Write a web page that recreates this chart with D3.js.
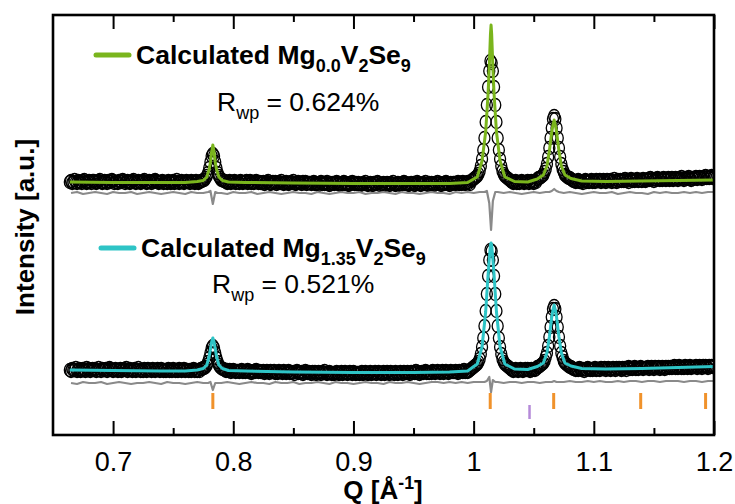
<!DOCTYPE html>
<html>
<head>
<meta charset="utf-8">
<script src="https://cdn.jsdelivr.net/npm/d3@7"></script>
<style>
body{margin:0;background:#fff}
text{font-family:"Liberation Sans",Arial,sans-serif;fill:#000}
</style>
</head>
<body>
<svg id="chart" width="735" height="504"></svg>
<script>
// observed points, equal Q steps
var obsStart = 0.664, obsStep = 0.001;
var obsTop = [
20,21,19,20,22,20,19,21,20,20,19,21,22,20,19,20,21,20,19,21,
21,20,19,20,21,22,20,19,20,21,20,19,21,20,20,22,21,19,20,20,
19,21,20,20,22,21,19,20,21,20,19,20,21,22,20,19,20,21,20,19,
20,21,22,20,19,20,21,20,19,21,20,22,21,20,19,20,20,21,19,20,
20,19,21,20,19,20,21,19,20,22,20,19,20,21,20,19,20,21,20,20,
19,21,20,20,19,21,20,19,20,21,21,22,22,24,26,29,34,40,46,48,
46,40,34,29,26,24,22,22,21,21,20,19,20,21,19,20,20,21,19,20,
20,19,21,20,19,20,20,21,19,20,21,19,20,19,20,21,20,19,20,19,
19,20,18,19,20,21,19,18,19,20,19,20,18,19,20,19,21,19,18,19,
20,19,18,19,20,19,21,19,18,19,20,19,19,18,20,19,20,18,19,19,
19,18,19,20,18,19,18,17,19,20,18,19,18,19,20,18,17,19,18,19,
18,19,20,18,19,17,18,19,20,18,19,18,17,19,18,20,19,18,19,18,
19,18,17,18,19,18,20,18,17,18,19,18,17,19,18,18,20,19,17,18,
18,19,17,18,19,18,17,19,18,20,18,17,18,19,18,17,18,19,20,18,
19,18,17,18,19,18,19,17,18,20,19,18,17,18,19,18,20,18,17,19,
18,19,18,17,19,18,20,18,19,17,18,19,18,20,19,18,17,19,18,19,
19,18,19,20,18,19,18,20,19,18,19,20,19,18,21,22,23,24,25,26,
28,31,36,43,52,64,80,97,115,131,141,139,131,115,97,80,64,52,43,36,
31,28,26,25,24,23,22,21,20,19,20,21,19,20,19,20,21,20,19,20,
20,21,19,20,21,20,19,21,20,23,24,24,25,26,27,30,33,38,45,54,
64,74,83,86,83,74,64,54,45,38,33,30,27,26,25,24,24,23,22,21,
21,20,21,22,20,21,20,19,21,22,20,21,20,21,22,20,21,20,22,21,
21,22,20,21,22,21,20,22,21,21,22,20,21,23,21,20,22,21,22,21,
22,21,23,21,22,20,22,23,21,22,21,22,23,21,22,22,21,23,22,21,
22,23,22,24,22,23,21,23,22,24,23,22,23,22,24,23,22,23,24,22,
23,24,22,23,24,23,22,24,23,25,23,22,24,23,24,25,23,22,24,23,
24,25,23,24,25,24,23,25,24,26,24,25,24,25,26,24,25];
var obsBottom = [
20,19,21,20,20,22,19,20,21,19,20,21,20,19,22,20,21,19,20,21,
20,21,19,20,22,20,19,21,20,20,21,19,20,22,21,20,19,20,21,20,
19,20,21,19,20,21,20,22,19,20,21,20,19,20,21,19,20,22,20,19,
20,19,21,20,19,21,20,20,19,21,20,19,20,21,20,19,21,20,19,20,
19,20,21,19,20,19,21,20,19,20,19,21,20,19,20,21,19,20,20,19,
20,19,20,21,19,20,19,20,19,21,21,22,22,23,25,28,32,37,42,44,
42,37,32,28,25,23,22,21,21,20,19,20,19,20,18,19,20,19,18,19,
19,18,19,20,18,19,18,19,20,18,19,17,18,19,18,20,19,18,19,18,
18,19,17,18,19,18,17,19,18,18,19,17,18,17,19,18,18,17,19,18,
17,18,19,17,18,17,18,16,18,19,17,18,17,18,16,17,19,18,17,18,
17,16,18,17,18,16,17,18,17,16,18,17,19,17,16,17,18,17,16,17,
16,17,18,17,16,17,18,16,17,18,17,16,17,18,17,16,18,17,16,17,
17,16,17,18,16,17,18,17,16,17,18,16,17,17,18,16,17,18,17,16,
17,18,16,17,18,17,16,18,17,17,16,18,17,16,17,18,17,16,18,17,
17,18,17,16,18,17,18,17,19,17,18,16,17,18,17,18,19,17,18,17,
18,17,19,18,17,18,19,18,17,18,19,17,18,19,18,17,18,19,18,18,
18,19,18,17,19,18,19,18,20,18,19,18,19,20,21,22,23,24,25,26,
28,31,36,43,52,64,79,96,114,130,140,139,130,114,96,79,64,52,43,36,
31,28,26,25,24,23,22,21,20,19,20,21,20,19,20,21,20,19,20,21,
20,21,20,19,21,20,21,20,21,23,23,24,25,26,27,29,33,37,44,53,
63,73,81,84,81,73,63,53,44,37,33,29,27,26,25,24,23,23,22,21,
21,20,21,20,22,21,20,21,19,21,20,22,21,20,21,20,21,22,20,21,
21,20,22,21,21,22,20,21,22,21,20,21,22,21,20,22,21,22,21,20,
22,21,22,20,22,23,21,22,21,22,23,21,22,21,22,23,22,21,22,22,
22,23,21,22,23,22,21,23,22,22,23,21,22,23,22,21,23,22,23,22,
23,22,23,24,22,23,22,24,23,22,23,22,24,23,22,23,24,22,23,23,
23,24,22,23,24,23,22,24,23,24,23,22,24,23,24,23,24];

// calculated profiles
var calcQ = [0.664,0.70,0.74,0.76,0.770,0.775,0.778,0.780,0.781,0.782,0.783,0.784,0.785,0.786,0.788,0.791,0.796,0.81,0.85,0.90,
0.95,0.98,0.995,1.003,1.007,1.010,1.012,1.013,1.014,1.0145,1.015,1.016,1.017,1.019,1.022,1.026,1.034,1.045,1.053,1.058,
1.061,1.063,1.065,1.066,1.067,1.068,1.069,1.071,1.073,1.076,1.081,1.09,1.11,1.14,1.17,1.2];
var calcTop = [20,19.5,19.5,19.5,20.5,21.5,25,33,40,50,57,50,40,33,25,21.5,20,19.5,19,18.5,
18.5,18.5,19.5,25,41,70,108,135,168,177,168,135,108,70,41,25,20.5,20,23,27,
36,51,70,77,82,77,70,51,36,27,23.5,21,20.5,21,21.5,22];
var calcBottom = [20,19.5,19,19,20,21.5,25,34,41,48,52,48,41,34,25,21.5,19.5,19,18,17.5,
17.5,18,19,26,43,78,115,131,145,147,145,131,115,78,43,26,21,20.5,23.5,27,
37,53,73,80,85,80,73,53,37,27,24,21.5,21,21.5,22.5,23.5];

// difference curves
var diffQ = [0.665,0.67,0.675,0.68,0.685,0.69,0.695,0.7,0.705,0.71,0.715,0.72,0.725,0.73,0.735,0.74,0.745,0.75,0.755,0.76,0.765,0.77,0.775,
0.779,0.781,0.783,0.785,0.787,
0.79,0.795,0.8,0.805,0.81,0.815,0.82,0.825,0.83,0.835,0.84,0.845,0.85,0.855,0.86,0.865,0.87,0.875,0.88,0.885,0.89,0.895,0.9,0.905,0.91,0.915,0.92,0.925,0.93,0.935,0.94,0.945,0.95,0.955,0.96,0.965,0.97,0.975,0.98,0.985,0.99,0.995,1,1.005,
1.009,1.011,1.013,1.0145,1.016,1.018,
1.02,1.025,1.03,1.035,1.04,1.045,1.05,1.055,1.06,
1.063,1.065,1.067,1.069,1.071,
1.075,1.08,1.085,1.09,1.095,1.1,1.105,1.11,1.115,1.12,1.125,1.13,1.135,1.14,1.145,1.15,1.155,1.16,1.165,1.17,1.175,1.18,1.185,1.19,1.195,1.2];
var diffTop = [0,1,-1,0,1,0,-1,1,0,0,1,-1,0,1,0,-1,0,1,0,-1,1,0,0,
1,2,-11,1,0,
0,-1,1,0,0,1,-1,0,1,0,-1,0,1,0,0,-1,1,0,-1,0,1,0,0,1,-1,0,0,1,0,-1,1,0,0,-1,0,1,0,0,-1,1,0,1,0,1,
1,2,-10,-37,-8,1,
1,0,1,0,-1,0,1,0,1,
1,2,4,2,1,
0,1,0,-1,0,1,0,0,1,-1,0,1,0,0,-1,1,0,1,0,0,1,0,1,0,1,1];
var diffBottom = [0,-1,1,0,0,1,-1,0,1,0,-1,0,0,1,0,-1,1,0,0,-1,0,1,0,
0,1,-7,0,0,
0,1,0,-1,0,1,0,0,-1,1,0,0,1,-1,0,0,1,0,-1,1,0,0,-1,0,1,0,0,-1,1,0,0,1,0,-1,0,1,1,0,1,0,1,0,1,1,
1,2,6,-9,3,1,
1,0,1,1,0,1,1,0,1,
1,1,2,1,1,
1,2,1,1,2,1,2,1,1,2,1,2,2,1,2,2,1,2,2,2,1,2,2,1,2,2];

// reflection positions
var reflOrange = [0.783,1.0138,1.0666,1.139,1.193];
var reflPurple = [1.0465];

var xTicks = [0.7,0.8,0.9,1,1.1,1.2];
var xMinor = [0.75,0.85,0.95,1.05,1.15];

var W = 735, H = 504, m = {l:53, r:21, t:15, b:69};
var svg = d3.select('#chart');
var x = d3.scaleLinear().domain([0.65,1.2]).range([m.l, W-m.r]);
var y = d3.scaleLinear().domain([0,420]).range([H-m.b, m.t]);

// vertical stacking of the two patterns
var offTop = 233, offBottom = 45, offDiffTop = 242, offDiffBottom = 52;

svg.append('clipPath').attr('id','clip').append('rect')
  .attr('x',m.l).attr('y',m.t).attr('width',W-m.l-m.r).attr('height',H-m.t-m.b);
var plot = svg.append('g').attr('clip-path','url(#clip)');

function drawObs(vals, off){
  plot.append('g').selectAll('ellipse').data(vals).enter().append('ellipse')
    .attr('cx',function(d,i){return x(obsStart+i*obsStep);})
    .attr('cy',function(d){return y(d+off);})
    .attr('rx',5.5).attr('ry',6.5)
    .attr('fill','none').attr('stroke','#000').attr('stroke-width',1.3);
}
function drawLine(qs, vals, off, color, w){
  var line = d3.line().x(function(d,i){return x(qs[i]);}).y(function(d){return y(d+off);});
  plot.append('path').datum(vals).attr('d',line)
    .attr('fill','none').attr('stroke',color).attr('stroke-width',w).attr('stroke-linejoin','round');
}

drawObs(obsTop, offTop);
drawLine(calcQ, calcTop, offTop, '#7ab51d', 3);
drawLine(diffQ, diffTop, offDiffTop, '#8a8a8a', 2.2);
drawObs(obsBottom, offBottom);
drawLine(calcQ, calcBottom, offBottom, '#2ec4c6', 3);
drawLine(diffQ, diffBottom, offDiffBottom, '#8a8a8a', 2.2);

// reflection tick rows
plot.append('g').selectAll('line').data(reflOrange).enter().append('line')
  .attr('x1',function(d){return x(d);}).attr('x2',function(d){return x(d);})
  .attr('y1',y(42)).attr('y2',y(26))
  .attr('stroke','#f0922b').attr('stroke-width',3);
plot.append('g').selectAll('line').data(reflPurple).enter().append('line')
  .attr('x1',function(d){return x(d);}).attr('x2',function(d){return x(d);})
  .attr('y1',y(30)).attr('y2',y(16))
  .attr('stroke','#b58ad9').attr('stroke-width',2.5);

// axes
var bottom = svg.append('g').attr('transform','translate(0,'+(H-m.b)+')')
  .call(d3.axisBottom(x).tickValues(xTicks).tickSize(-14).tickPadding(17).tickFormat(d3.format('~g')));
svg.append('g').attr('transform','translate(0,'+(H-m.b)+')')
  .call(d3.axisBottom(x).tickValues(xMinor).tickSize(-7).tickFormat(''));
svg.append('g').attr('transform','translate(0,'+m.t+')')
  .call(d3.axisTop(x).tickValues(xTicks).tickSize(-14).tickFormat(''));
svg.append('g').attr('transform','translate(0,'+m.t+')')
  .call(d3.axisTop(x).tickValues(xMinor).tickSize(-7).tickFormat(''));
svg.selectAll('.domain').remove();
svg.selectAll('.tick line').attr('stroke','#000').attr('stroke-width',2);
bottom.selectAll('.tick text').attr('font-size',27).attr('font-family','"Liberation Sans",Arial,sans-serif').attr('fill','#000');

svg.append('rect').attr('x',m.l).attr('y',m.t).attr('width',W-m.l-m.r).attr('height',H-m.t-m.b)
  .attr('fill','none').attr('stroke','#000').attr('stroke-width',2.6);

// text with sub/superscripts
function rich(x0, y0, parts, size, weight){
  var t = svg.append('text').attr('x',x0).attr('y',y0).attr('font-size',size).attr('font-weight',weight);
  var shift = 0;
  parts.forEach(function(p){
    var target = p[1]=='sub' ? size*0.3 : p[1]=='sup' ? -size*0.38 : 0;
    t.append('tspan').attr('dy',target-shift).attr('font-size',p[1] ? size*0.68 : size).text(p[0]);
    shift = target;
  });
  return t;
}

// legends
svg.append('line').attr('x1',96).attr('x2',129).attr('y1',55).attr('y2',55)
  .attr('stroke','#7ab51d').attr('stroke-width',5).attr('stroke-linecap','round');
rich(136, 64, [['Calculated Mg'],['0.0','sub'],['V'],['2','sub'],['Se'],['9','sub']], 26.5, 'bold');
rich(217, 111, [['R'],['wp','sub'],[' = 0.624%']], 26.5, 'normal');

svg.append('line').attr('x1',101).attr('x2',134).attr('y1',248).attr('y2',248)
  .attr('stroke','#2ec4c6').attr('stroke-width',5).attr('stroke-linecap','round');
rich(141, 257, [['Calculated Mg'],['1.35','sub'],['V'],['2','sub'],['Se'],['9','sub']], 26.5, 'bold');
rich(212, 293, [['R'],['wp','sub'],[' = 0.521%']], 26.5, 'normal');

// axis titles
rich(0, 0, [['Q [Å'],['-1','sup'],[']']], 26, 'bold')
  .attr('text-anchor','middle').attr('transform','translate(383,499)');
svg.append('text').attr('transform','translate(34,227) rotate(-90)')
  .attr('text-anchor','middle').attr('font-size',26).attr('font-weight','bold')
  .text('Intensity [a.u.]');
</script>
</body>
</html>
